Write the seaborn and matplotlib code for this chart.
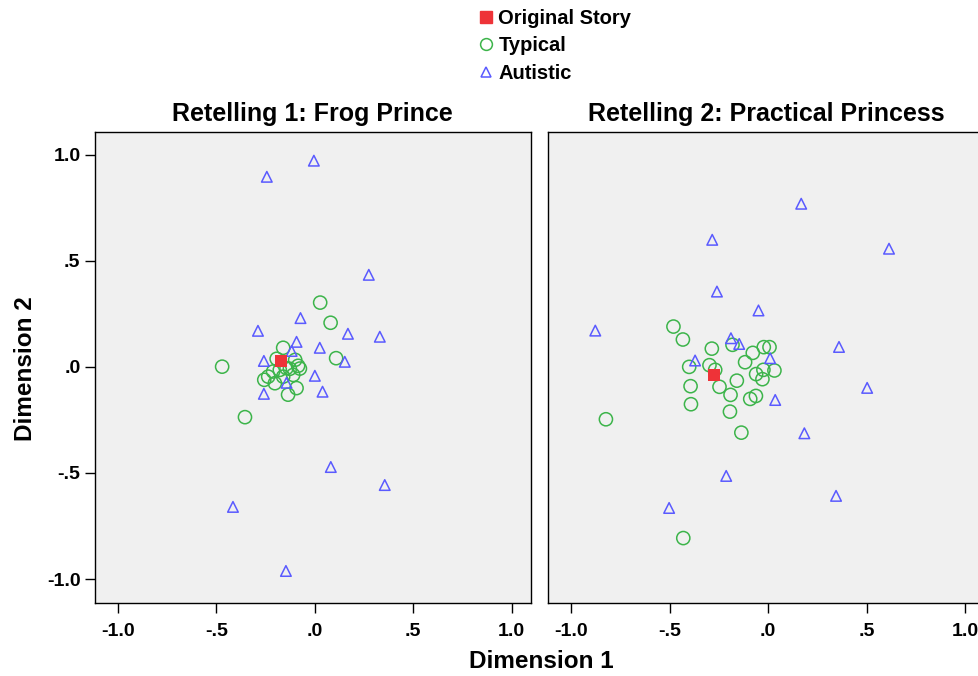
import matplotlib
matplotlib.use("Agg")
import matplotlib.pyplot as plt
from matplotlib.lines import Line2D
import seaborn as sns
import pandas as pd

# Retelling 1: Frog Prince
frog_typ_x = [0.027, 0.080, -0.161, 0.108, -0.471, -0.194, -0.100, -0.085, -0.076, -0.144, -0.178,
              -0.212, -0.237, -0.257, -0.203, -0.161, -0.110, -0.127, -0.093, -0.136, -0.355]
frog_typ_y = [0.303, 0.208, 0.090, 0.041, 0.001, 0.038, 0.033, 0.005, -0.008, -0.006, -0.014,
              -0.022, -0.046, -0.061, -0.077, -0.046, -0.038, -0.009, -0.100, -0.131, -0.237]
frog_aut_x = [-0.005, -0.244, 0.274, -0.289, -0.073, 0.168, 0.330, -0.093, -0.118, 0.025,
              -0.259, 0.152, 0.000, -0.144, -0.259, 0.039, 0.081, 0.355, -0.416, -0.147]
frog_aut_y = [0.972, 0.896, 0.434, 0.170, 0.230, 0.156, 0.142, 0.118, 0.075, 0.090,
              0.028, 0.024, -0.042, -0.075, -0.127, -0.117, -0.472, -0.557, -0.660, -0.962]
frog_orig = (-0.173, 0.030)

# Retelling 2: Practical Princess
prin_typ_x = [-0.481, -0.433, -0.286, -0.181, -0.078, -0.022, 0.007, -0.117, -0.401, -0.298,
              -0.269, -0.024, 0.032, -0.061, -0.029, -0.159, -0.394, -0.247, -0.191, -0.062,
              -0.091, -0.392, -0.194, -0.136, -0.824, -0.431]
prin_typ_y = [0.190, 0.129, 0.086, 0.104, 0.066, 0.093, 0.093, 0.022, 0.000, 0.008,
              -0.014, -0.014, -0.017, -0.034, -0.058, -0.065, -0.091, -0.094, -0.132, -0.137,
              -0.151, -0.176, -0.211, -0.310, -0.247, -0.807]
prin_aut_x = [0.168, 0.614, -0.284, -0.260, -0.878, -0.049, -0.189, -0.147, -0.371,
              0.010, 0.036, 0.184, 0.360, 0.503, 0.345, -0.213, -0.503]
prin_aut_y = [0.769, 0.557, 0.599, 0.355, 0.171, 0.266, 0.135, 0.108, 0.030,
              0.041, -0.156, -0.313, 0.094, -0.099, -0.608, -0.514, -0.665]
prin_orig = (-0.274, -0.039)

titles = ["Retelling 1: Frog Prince", "Retelling 2: Practical Princess"]
groups = ["Original Story", "Typical", "Autistic"]
tick_vals = [-1.0, -0.5, 0.0, 0.5, 1.0]
tick_labels = ["-1.0", "-.5", ".0", ".5", "1.0"]

colors = {"Original Story": "#ee3338", "Typical": "#3cb44a", "Autistic": "#5a5aff"}
markers = {"Original Story": "s", "Typical": "o", "Autistic": "^"}
sizes = {"Original Story": 75, "Typical": 90, "Autistic": 58}

rows = []
for title, tx, ty, ax_, ay, orig in [
        (titles[0], frog_typ_x, frog_typ_y, frog_aut_x, frog_aut_y, frog_orig),
        (titles[1], prin_typ_x, prin_typ_y, prin_aut_x, prin_aut_y, prin_orig)]:
    for x, y in zip(tx, ty):
        rows.append((title, "Typical", x, y))
    for x, y in zip(ax_, ay):
        rows.append((title, "Autistic", x, y))
    rows.append((title, "Original Story", orig[0], orig[1]))
df = pd.DataFrame(rows, columns=["panel", "group", "dim1", "dim2"])

sns.set_style("ticks")
plt.rcParams["font.family"] = ["Liberation Sans", "DejaVu Sans"]
plt.rcParams["font.weight"] = "bold"
plt.rcParams["text.color"] = "black"

fig = plt.figure(figsize=(9.79, 6.76), dpi=100)
axes = [fig.add_axes([0.097, 0.108, 0.445, 0.697]),
        fig.add_axes([0.560, 0.108, 0.445, 0.697])]

for i, ax in enumerate(axes):
    ax.set_facecolor("#f0f0f0")
    sub = df[df.panel == titles[i]]
    for g in ["Typical", "Autistic", "Original Story"]:
        d = sub[sub.group == g]
        if g == "Original Story":
            sns.scatterplot(data=d, x="dim1", y="dim2", ax=ax, marker=markers[g], s=sizes[g],
                            color=colors[g], edgecolor=colors[g], linewidth=0, legend=False, zorder=3)
        else:
            sns.scatterplot(data=d, x="dim1", y="dim2", ax=ax, marker=markers[g], s=sizes[g],
                            color=colors[g], facecolor="none", edgecolor=colors[g],
                            linewidth=1.1, legend=False, zorder=2)
    ax.set_xlim(-1.117, 1.096)
    ax.set_ylim(-1.113, 1.108)
    ax.set_xticks(tick_vals)
    ax.set_xticklabels(tick_labels, fontsize=14, fontweight="bold", color="black")
    ax.set_xlabel("")
    ax.set_ylabel("")
    ax.set_title(titles[i], fontsize=18, fontweight="bold", pad=8, color="black")
    for sp in ax.spines.values():
        sp.set_visible(True)
        sp.set_color("black")
        sp.set_linewidth(1.0)
    ax.tick_params(direction="out", length=7.5, width=1, colors="black")
    ax.tick_params(axis="x", pad=7)
    ax.tick_params(axis="y", pad=3)
    if i == 0:
        ax.set_yticks(tick_vals)
        ax.set_yticklabels(tick_labels, fontsize=14, fontweight="bold", color="black")
    else:
        ax.set_yticks([])

fig.text(0.553, 0.022, "Dimension 1", ha="center", va="center", fontsize=17.5, fontweight="bold")
fig.text(0.026, 0.455, "Dimension 2", ha="center", va="center", rotation=90,
         fontsize=17.5, fontweight="bold")

handles = [Line2D([], [], linestyle="none", marker="s", markersize=8.5, markerfacecolor=colors["Original Story"],
                  markeredgecolor=colors["Original Story"]),
           Line2D([], [], linestyle="none", marker="o", markersize=8.5, markerfacecolor="none",
                  markeredgecolor=colors["Typical"], markeredgewidth=1.1),
           Line2D([], [], linestyle="none", marker="^", markersize=7.5, markerfacecolor="none",
                  markeredgecolor=colors["Autistic"], markeredgewidth=1.1)]
fig.legend(handles, groups, loc="upper left", bbox_to_anchor=(0.474, 1.005), frameon=False,
           prop={"size": 14.5, "weight": "bold"}, handletextpad=0.1, handlelength=1.0,
           labelspacing=0.42, borderaxespad=0.2)

fig.savefig("out.png", dpi=100)
